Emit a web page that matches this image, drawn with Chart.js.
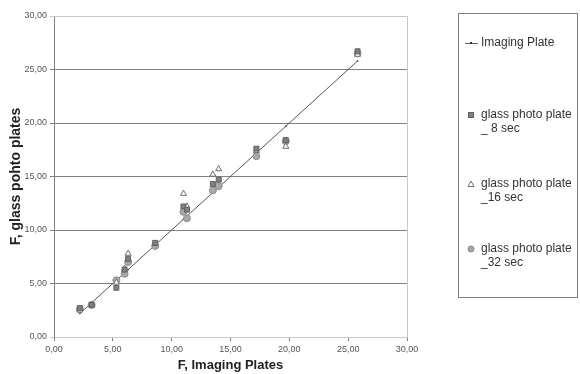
<!DOCTYPE html>
<html>
<head>
<meta charset="utf-8">
<script src="https://cdn.jsdelivr.net/npm/chart.js@4"></script>
<style>
  html, body { margin: 0; padding: 0; background: #fff; }
  #wrap { width: 580px; height: 374px; position: relative; }
</style>
</head>
<body>
<div id="wrap"><canvas id="chart" width="580" height="374"></canvas></div>
<script>
// values
const imagingX = [2.2, 3.2, 5.3, 6.0, 6.3, 8.6, 11.0, 11.3, 13.5, 14.0, 17.2, 19.7, 25.8];
const imagingY = [2.2, 3.2, 5.3, 6.0, 6.3, 8.6, 11.0, 11.3, 13.5, 14.0, 17.2, 19.7, 25.8];
const glass8 = [2.7, 3.0, 4.6, 6.3, 7.3, 8.8, 12.2, 11.9, 14.3, 14.7, 17.6, 18.4, 26.7];
const glass16 = [2.5, 3.0, 5.1, 6.4, 7.8, 8.7, 13.4, 12.2, 15.2, 15.7, 17.4, 17.8, 26.4];
const glass32 = [2.6, 3.0, 5.3, 5.9, 7.0, 8.5, 11.7, 11.1, 13.7, 14.1, 16.9, 18.3, 26.5];
const tickValues = [0, 5, 10, 15, 20, 25, 30];
const seriesNames = ['Imaging Plate', 'glass photo plate\n_ 8 sec', 'glass photo plate\n_16 sec', 'glass photo plate\n_32 sec'];

const toPoints = ys => imagingX.map((x, i) => ({ x: x, y: ys[i] }));
const fmt = v => v.toFixed(2).replace('.', ',');

const legendPlugin = {
  id: 'boxLegend',
  afterDraw(chart) {
    const ctx = chart.ctx;
    ctx.save();
    ctx.strokeStyle = '#808080';
    ctx.lineWidth = 1;
    ctx.strokeRect(458.5, 13.5, 119, 284);
    const rows = [43, 122, 191, 256];
    ctx.font = '12px "Liberation Sans", Arial, sans-serif';
    ctx.textBaseline = 'middle';
    rows.forEach((y, i) => {
      const lines = seriesNames[i].split('\n');
      const top = lines.length > 1 ? y - 7 : y;
      const mx = 471;
      if (i === 0) {
        ctx.strokeStyle = '#606060';
        ctx.beginPath(); ctx.moveTo(465, top + 0.5); ctx.lineTo(478, top + 0.5); ctx.stroke();
        ctx.fillStyle = '#303030';
        ctx.fillRect(mx - 1, top - 1, 2, 2);
      } else if (i === 1) {
        ctx.fillStyle = '#808080'; ctx.strokeStyle = '#606060';
        ctx.fillRect(mx - 3, top - 3, 6, 6); ctx.strokeRect(mx - 2.5, top - 2.5, 5, 5);
      } else if (i === 2) {
        ctx.strokeStyle = '#707070'; ctx.fillStyle = '#fff';
        ctx.beginPath(); ctx.moveTo(mx, top - 3); ctx.lineTo(mx + 3, top + 2.5); ctx.lineTo(mx - 3, top + 2.5); ctx.closePath();
        ctx.fill(); ctx.stroke();
      } else {
        ctx.fillStyle = '#a8a8a8'; ctx.strokeStyle = '#888';
        ctx.beginPath(); ctx.arc(mx, top, 3, 0, Math.PI * 2); ctx.fill(); ctx.stroke();
      }
      ctx.fillStyle = '#333';
      lines.forEach((t, k) => ctx.fillText(t, 481, top + k * 14));
    });
    ctx.restore();
  }
};

const frame = {
  id: 'frame',
  beforeDatasetsDraw(chart) {
    const a = chart.chartArea, ctx = chart.ctx;
    ctx.save();
    ctx.strokeStyle = '#c8c8c8';
    ctx.lineWidth = 1;
    ctx.beginPath();
    ctx.moveTo(a.left, a.top + 0.5); ctx.lineTo(a.right + 0.5, a.top + 0.5);
    ctx.lineTo(a.right + 0.5, a.bottom);
    ctx.stroke();
    ctx.restore();
  }
};

new Chart(document.getElementById('chart'), {
  type: 'scatter',
  data: {
    datasets: [
      {
        label: seriesNames[0], data: toPoints(imagingY), showLine: true,
        borderColor: '#555555', borderWidth: 1, pointStyle: 'rect', pointRadius: 1,
        backgroundColor: '#303030', pointBorderWidth: 0, order: 4
      },
      {
        label: seriesNames[1], data: toPoints(glass8), pointStyle: 'rect', pointRadius: 3.5,
        backgroundColor: '#808080', borderColor: '#606060', borderWidth: 1, order: 1
      },
      {
        label: seriesNames[2], data: toPoints(glass16), pointStyle: 'triangle', pointRadius: 3.5,
        backgroundColor: '#ffffff', borderColor: '#707070', borderWidth: 1, order: 2
      },
      {
        label: seriesNames[3], data: toPoints(glass32), pointStyle: 'circle', pointRadius: 3.5,
        backgroundColor: '#a8a8a8', borderColor: '#909090', borderWidth: 1, order: 3
      }
    ]
  },
  options: {
    responsive: false,
    animation: false,
    layout: { padding: { top: 16, right: 173, left: 8, bottom: 0 } },
    plugins: { legend: { display: false }, tooltip: { enabled: false } },
    scales: {
      x: {
        min: 0, max: 30,
        afterBuildTicks: s => { s.ticks = tickValues.map(v => ({ value: v })); },
        afterFit: s => { s.height = 37; },
        ticks: { callback: v => fmt(v), color: '#555', font: { size: 9, family: '"Liberation Sans", Arial' }, padding: 3, maxRotation: 0 },
        grid: { drawOnChartArea: false, tickLength: 4, color: '#808080' },
        border: { color: '#c8c8c8' },
        title: { display: true, text: 'F, Imaging Plates', color: '#222', font: { size: 13, weight: 'bold', family: '"Liberation Sans", Arial' }, padding: { top: 0, bottom: 1 } }
      },
      y: {
        min: 0, max: 30,
        afterBuildTicks: s => { s.ticks = tickValues.map(v => ({ value: v })); },
        afterFit: s => { s.width = 46; },
        ticks: { callback: v => fmt(v), color: '#555', font: { size: 9, family: '"Liberation Sans", Arial' }, padding: 3 },
        grid: {
          tickLength: 4,
          color: c => (c.tick && (c.tick.value === 0 || c.tick.value === 30)) ? '#c8c8c8' : '#808080'
        },
        border: { color: '#808080' },
        title: { display: true, text: 'F, glass pohto plates', color: '#222', font: { size: 14, weight: 'bold', family: '"Liberation Sans", Arial' }, padding: { top: 0, bottom: 4 } }
      }
    }
  },
  plugins: [frame, legendPlugin]
});
</script>
</body>
</html>
